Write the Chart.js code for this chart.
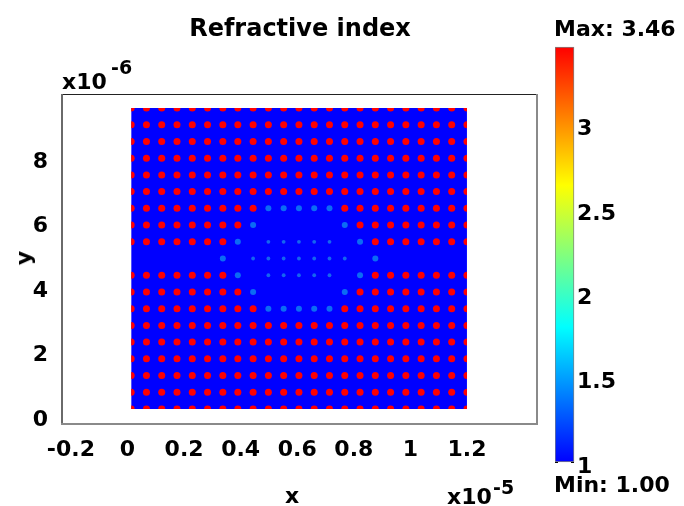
<!DOCTYPE html>
<html>
<head>
<meta charset="utf-8">
<script src="https://cdn.jsdelivr.net/npm/chart.js@4.4.1/dist/chart.umd.min.js"></script>
<style>
  body { margin: 0; background: #fff; }
  #wrap { position: relative; width: 684px; height: 506px; overflow: hidden; font-family: "DejaVu Sans", sans-serif; font-weight: bold; color: #000; }
  .box { position: absolute; }
  .t { position: absolute; white-space: nowrap; line-height: 1; }
</style>
</head>
<body>
<div id="wrap">
  <div class="box" style="left:0;top:0;width:545px;height:506px"><canvas id="map"></canvas></div>
  <div class="box" style="left:555px;top:0;width:129px;height:506px"><canvas id="bar"></canvas></div>

  <div class="t" style="left:300px;top:16px;font-size:24px;transform:translateX(-50%)">Refractive index</div>
  <div class="t" style="left:62px;top:71px;font-size:22px">x10</div>
  <div class="t" style="left:111px;top:58px;font-size:19px">-6</div>
  <div class="t" style="left:447px;top:486px;font-size:22px">x10</div>
  <div class="t" style="left:493px;top:478px;font-size:19px">-5</div>
  <div class="t" style="left:292px;top:485px;font-size:22px;transform:translateX(-50%)">x</div>
  <div class="t" style="left:24px;top:258px;font-size:22px;transform:translate(-50%,-50%) rotate(-90deg)">y</div>
  <div class="t" style="left:554px;top:18px;font-size:22px">Max: 3.46</div>
  <div class="t" style="left:554px;top:474px;font-size:22px">Min: 1.00</div>
</div>
<script>
// axes (x in units of 1e-5, y in units of 1e-6)
const xTicks = [-0.2, 0, 0.2, 0.4, 0.6, 0.8, 1, 1.2];
const yTicks = [0, 2, 4, 6, 8];
const xRange = [-0.228, 1.444];
const yRange = [-0.155, 10.016];

// hole lattice: column and row centres
const colX = [0.013, 0.067, 0.121, 0.175, 0.229, 0.283, 0.337, 0.390, 0.444, 0.498, 0.552, 0.606,
  0.660, 0.714, 0.768, 0.822, 0.876, 0.930, 0.984, 1.038, 1.092, 1.146, 1.200];
const rowY = [9.612, 9.094, 8.575, 8.057, 7.538, 7.020, 6.501, 5.983, 5.464, 4.946, 4.427, 3.909,
  3.390, 2.872, 2.353, 1.835, 1.316, 0.798, 0.279];

// R = high index rod, L = tuned rod, s = small rod, . = none
const lattice = [
  "RRRRRRRRRRRRRRRRRRRRRRR",
  "RRRRRRRRRRRRRRRRRRRRRRR",
  "RRRRRRRRRRRRRRRRRRRRRRR",
  "RRRRRRRRRRRRRRRRRRRRRRR",
  "RRRRRRRRRRRRRRRRRRRRRRR",
  "RRRRRRRRRRRRRRRRRRRRRRR",
  "RRRRRRRRRLLLLLRRRRRRRRR",
  "RRRRRRRRL.....LRRRRRRRR",
  "RRRRRRRL.sssss.LRRRRRRR",
  "......L.sssssss.L......",
  "RRRRRRRL.sssss.LRRRRRRR",
  "RRRRRRRRL.....LRRRRRRRR",
  "RRRRRRRRRLLLLLRRRRRRRRR",
  "RRRRRRRRRRRRRRRRRRRRRRR",
  "RRRRRRRRRRRRRRRRRRRRRRR",
  "RRRRRRRRRRRRRRRRRRRRRRR",
  "RRRRRRRRRRRRRRRRRRRRRRR",
  "RRRRRRRRRRRRRRRRRRRRRRR",
  "RRRRRRRRRRRRRRRRRRRRRRR"
];

// colour bar
const cRange = [1, 3.46];
const cTicks = [1, 1.5, 2, 2.5, 3];

const font = { family: "DejaVu Sans", weight: "bold", size: 22 };

var red = [], wide = [], small = [];
lattice.forEach((row, j) => {
  row.split("").forEach((c, k) => {
    const p = { x: colX[k], y: rowY[j] };
    if (c === "R") red.push(p);
    else if (c === "L") wide.push(p);
    else if (c === "s") small.push(p);
  });
});

// keep the rods inside the simulation region
const slabClip = {
  id: "slabClip",
  beforeDatasetDraw(chart) {
    const sx = chart.scales.x, sy = chart.scales.y, ctx = chart.ctx;
    const l = sx.getPixelForValue(colX[0]), r = sx.getPixelForValue(colX[colX.length - 1]);
    const t = sy.getPixelForValue(rowY[0]), b = sy.getPixelForValue(rowY[rowY.length - 1]);
    ctx.save();
    ctx.beginPath();
    ctx.rect(l, t, r - l, b - t);
    ctx.clip();
  },
  afterDatasetDraw(chart) {
    chart.ctx.restore();
  },
};

const frame = {
  id: "frame",
  afterDraw(chart) {
    const { ctx, chartArea: a } = chart;
    ctx.save();
    ctx.fillStyle = "#222";
    ctx.fillRect(a.left - 1, a.top - 1, a.right - a.left + 2, 1);
    ctx.fillStyle = "#6a6a6a";
    ctx.fillRect(a.left - 2, a.top - 1, 2, a.bottom - a.top + 2);
    ctx.fillStyle = "#8a8a8a";
    ctx.fillRect(a.right, a.top - 1, 2, a.bottom - a.top + 3);
    ctx.fillRect(a.left - 2, a.bottom, a.right - a.left + 4, 2);
    ctx.restore();
  },
};

const mapChart = new Chart(document.getElementById("map"), {
  type: "scatter",
  data: {
    datasets: [
      {
        type: "line",
        data: [
          { x: colX[0], y: rowY[0] },
          { x: colX[colX.length - 1], y: rowY[0] },
        ],
        fill: { value: rowY[rowY.length - 1] },
        backgroundColor: "#0000ff",
        borderWidth: 0,
        pointRadius: 0,
        order: 3,
      },
      { data: red, backgroundColor: "#ff0000", borderWidth: 0, pointRadius: 3.5, order: 1 },
      { data: wide, backgroundColor: "#0b6cf4", borderWidth: 0, pointRadius: 3, order: 2 },
      { data: small, backgroundColor: "#1466f0", borderWidth: 0, pointRadius: 1.9, order: 2 },
    ],
  },
  options: {
    animation: false,
    responsive: true,
    maintainAspectRatio: false,
    events: [],
    layout: { padding: { top: 95, right: 9, bottom: 0, left: 0 } },
    plugins: { legend: { display: false }, tooltip: { enabled: false } },
    scales: {
      x: {
        type: "linear",
        min: xRange[0],
        max: xRange[1],
        afterBuildTicks: (s) => { s.ticks = xTicks.map((v) => ({ value: v })); },
        afterFit: (s) => { s.height = 83; },
        grid: { display: false },
        border: { display: false },
        ticks: { font: font, color: "#000", padding: 6, maxRotation: 0, autoSkip: false, callback: (v) => String(v) },
      },
      y: {
        type: "linear",
        min: yRange[0],
        max: yRange[1],
        afterBuildTicks: (s) => { s.ticks = yTicks.map((v) => ({ value: v })); },
        afterFit: (s) => { s.width = 63; },
        grid: { display: false },
        border: { display: false },
        ticks: { font: font, color: "#000", padding: 7, labelOffset: 2, autoSkip: false, callback: (v) => String(v) },
      },
    },
  },
  plugins: [slabClip, frame],
});

// colour bar
const barChart = new Chart(document.getElementById("bar"), {
  type: "bar",
  data: {
    labels: [""],
    datasets: [
      {
        data: [cRange],
        backgroundColor: (c) => {
          const ch = c.chart, sy = ch.scales.y;
          if (!ch.chartArea || !sy) return "#0000ff";
          const g = ch.ctx.createLinearGradient(0, sy.getPixelForValue(cRange[0]), 0, sy.getPixelForValue(cRange[1]));
          g.addColorStop(0, "#0000ff");
          g.addColorStop(0.325, "#00ffff");
          g.addColorStop(0.667, "#ffff00");
          g.addColorStop(1, "#ff0000");
          return g;
        },
        borderColor: "#808080",
        borderWidth: 1,
        borderSkipped: false,
        barPercentage: 1,
        categoryPercentage: 1,
        clip: false,
      },
    ],
  },
  options: {
    animation: false,
    responsive: true,
    maintainAspectRatio: false,
    events: [],
    layout: { padding: { top: 47, bottom: 44, left: 0, right: 0 } },
    plugins: { legend: { display: false }, tooltip: { enabled: false } },
    scales: {
      x: { display: false },
      y: {
        position: "right",
        min: cRange[0],
        max: cRange[1],
        z: 1,
        afterBuildTicks: (s) => { s.ticks = cTicks.map((v) => ({ value: v })); },
        afterFit: (s) => { s.width = 110; },
        grid: { drawOnChartArea: true, drawTicks: false, color: "#000", lineWidth: 1 },
        border: { display: false, dash: [3, 13] },
        ticks: { font: font, color: "#000", padding: 3, labelOffset: 5, callback: (v) => String(v) },
      },
    },
  },
});
</script>
</body>
</html>
